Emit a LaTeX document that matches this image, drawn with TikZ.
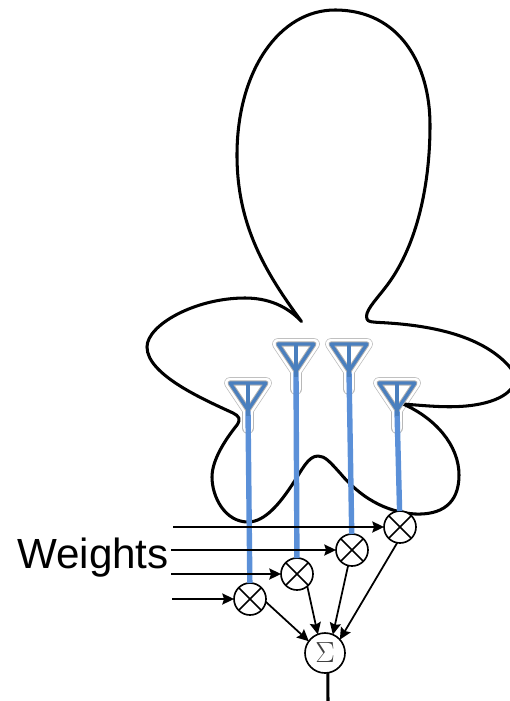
\documentclass[tikz,border=0pt]{standalone}
\usepackage{fontspec}
\setmainfont{Liberation Sans}
\usepackage{xcolor}
\usetikzlibrary{arrows.meta}
\definecolor{mastblue}{HTML}{5B90D8}
\definecolor{antblue}{HTML}{4A7FBE}

\begin{document}
\begin{tikzpicture}[
    x=0.03cm, y=-0.03cm,
    lobe/.style={line width=2.6pt, line cap=round, line join=round},
    halo/.style={draw=black!28, line width=10pt, line join=round, line cap=round},
    haloin/.style={draw=white, fill=white, line width=8.8pt, line join=round, line cap=round},
    haloedge/.style={draw=black!30, line width=4.4pt, line join=round},
    antenna/.style={draw=antblue, line width=2.8pt, line join=round},
    mast/.style={draw=mastblue, line width=4.6pt},
    feed/.style={line width=1.5pt, -{Stealth[length=10pt, width=9.5pt, inset=1.5pt]}},
    mixer/.style={circle, draw, line width=1.4pt, fill=white, inner sep=0pt, outer sep=0pt, minimum size=0.96cm,
      path picture={
        \draw[line width=1.4pt] (path picture bounding box.north west) -- (path picture bounding box.south east);
        \draw[line width=1.4pt] (path picture bounding box.north east) -- (path picture bounding box.south west);
      }},
    summer/.style={circle, draw, line width=1.4pt, fill=white, inner sep=0pt, outer sep=0pt, minimum size=1.2cm,
      text=black!75, font=\fontsize{23}{23}\selectfont},
  ]
    \clip (0, 0) rectangle (510, 701);

    % halos behind the antennas
    \foreach \n/\x/\y in {1/248/383, 2/296/344, 3/349/344, 4/397/383} {
      \draw[halo] (\x, {\y+27}) -- (\x, {\y+45});
      \draw[halo] ({\x-18}, \y) -- ({\x+18}, \y) -- (\x, {\y+27}) -- cycle;
      \draw[haloin] (\x, {\y+27}) -- (\x, {\y+45});
      \draw[haloin] ({\x-18}, \y) -- ({\x+18}, \y) -- (\x, {\y+27}) -- cycle;
    }

    % radiation pattern
    \draw[lobe] (301.5, 321.5) .. controls (265, 272) and (237, 225) .. (237, 155)
      .. controls (237, 70) and (280, 10) .. (335, 10)
      .. controls (400, 10) and (430, 65) .. (430, 125)
      .. controls (430, 190) and (415, 250) .. (385, 288)
      .. controls (375, 301) and (364, 312) .. (367, 319)
      .. controls (368, 322) and (372, 322) .. (380, 322.5)
      .. controls (430, 325) and (480, 335) .. (508, 365)
      .. controls (524, 382) and (510, 398) .. (480, 404)
      .. controls (455, 409) and (430, 406) .. (403, 404)
      .. controls (435, 418) and (459, 445) .. (459, 475)
      .. controls (459, 505) and (440, 515) .. (415, 514)
      .. controls (385, 512) and (360, 497) .. (340, 473)
      .. controls (330, 462) and (325, 456) .. (318, 456)
      .. controls (308, 456) and (302, 470) .. (292, 485)
      .. controls (280, 503) and (265, 522) .. (248, 522)
      .. controls (225, 522) and (212, 497) .. (212, 477)
      .. controls (212, 460) and (225, 440) .. (237, 425)
      .. controls (241, 419) and (239, 416) .. (233, 413)
      .. controls (205, 400) and (147, 375) .. (147, 347)
      .. controls (147, 325) and (195, 298) .. (245, 298)
      .. controls (268, 298) and (287, 306) .. (301.5, 321.5);

    % weights
    \node[mixer] (mul1) at (250, 599) {};
    \node[mixer] (mul2) at (297, 574) {};
    \node[mixer] (mul3) at (352, 550) {};
    \node[mixer] (mul4) at (400, 527) {};
    \node[summer] (sum) at (325, 653) {$\Sigma$};
    \node[font=\fontsize{36}{36}\selectfont, anchor=base] (weights) at (93, 568) {Weights};

    % antennas and masts
    \foreach \n/\x/\y in {1/248/383, 2/296/344, 3/349/344, 4/397/383} {
      \coordinate (ant\n) at (\x, {\y+27});
      \draw[mast] (ant\n) -- (mul\n);
      \draw[haloedge] ({\x-18}, \y) -- ({\x+18}, \y) -- (ant\n) -- cycle;
      \draw[antenna] ({\x-18}, \y) -- ({\x+18}, \y) -- (ant\n) -- cycle;
      \draw[antenna] (\x, \y) -- (ant\n);
      \draw[antenna] (ant\n) -- (\x, {\y+33});
    }

    % inputs
    \coordinate (in1) at (172, 599);
    \coordinate (in2) at (171, 574);
    \coordinate (in3) at (171, 550);
    \coordinate (in4) at (173, 527);
    \foreach \n in {1, 2, 3, 4} {
      \draw[feed] (in\n) -- (mul\n);
    }

    % into the sum
    \draw[feed] (mul1.-10) -- (sum.144);
    \draw[feed] (mul2.-50) -- (sum.111);
    \draw[feed] (mul3.-104) -- (sum.67);
    \draw[feed] (mul4.-100) -- (sum.42);

    % output
    \coordinate (out) at (328, 701);
    \draw[line width=2.6pt] (sum.-82) -- (out);
  \end{tikzpicture}
\end{document}
